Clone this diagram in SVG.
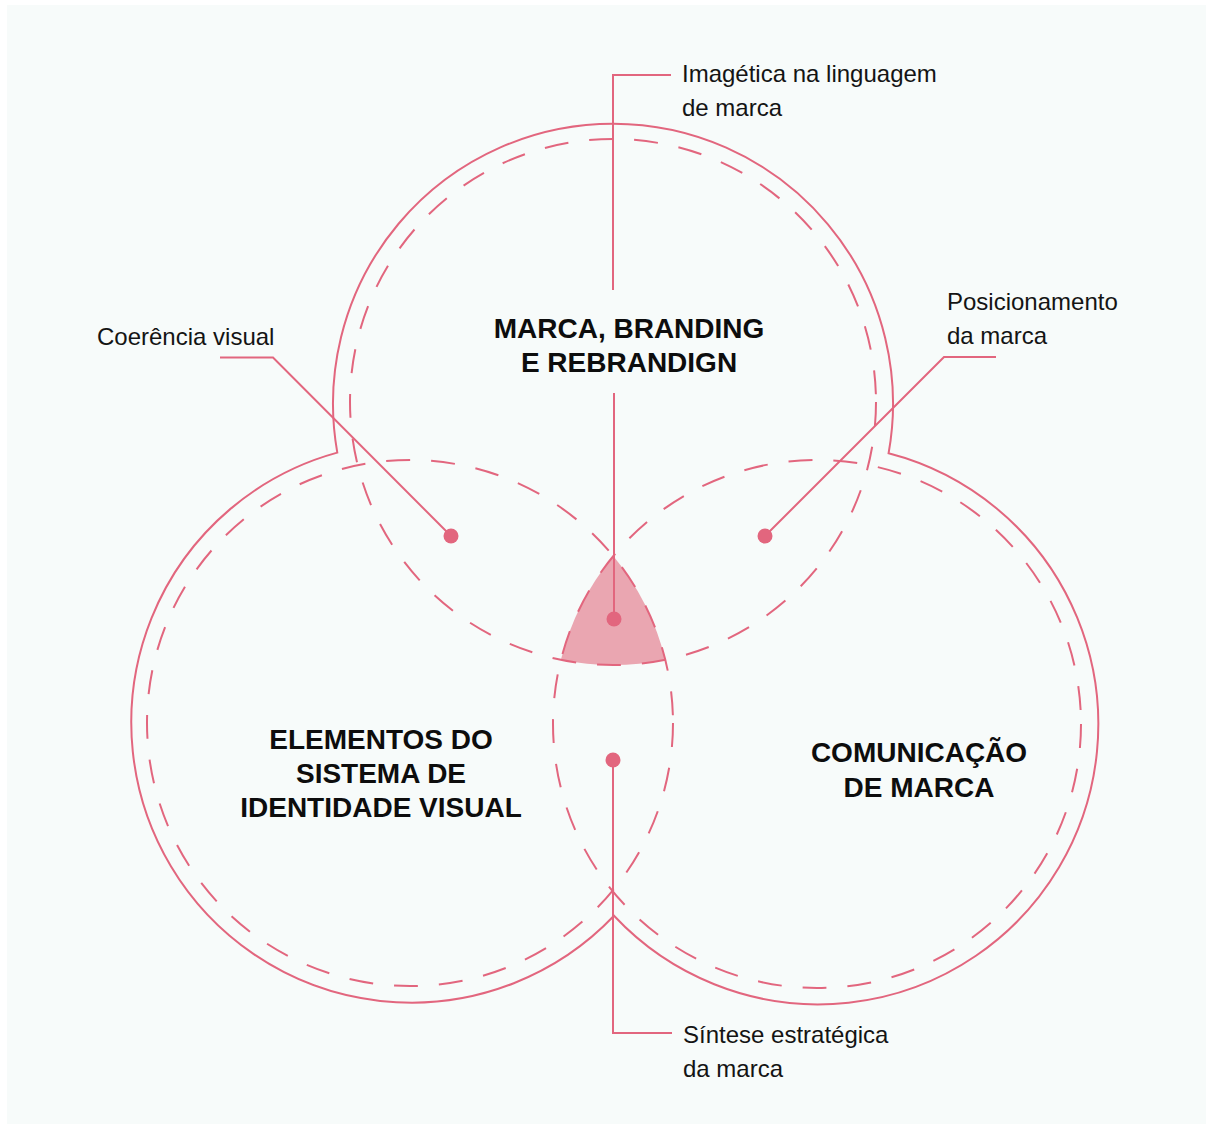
<svg xmlns="http://www.w3.org/2000/svg" width="1213" height="1129" viewBox="0 0 1213 1129">
  <style>
    .outline { fill: none; stroke: #e2667e; stroke-width: 2; stroke-linejoin: miter; }
    .dash { fill: none; stroke: #e2667e; stroke-width: 2; stroke-dasharray: 24 21; }
    .lead { fill: none; stroke: #e2667e; stroke-width: 2; }
    .dot { fill: #e2667e; }
    .lbl { font-family: "Liberation Sans", Arial, sans-serif; font-size: 24px; fill: #141414; }
    .ttl { font-family: "Liberation Sans", Arial, sans-serif; font-size: 28px; font-weight: bold; fill: #0d0d0d; text-anchor: middle; }
  </style>
  <rect x="0" y="0" width="1213" height="1129" fill="#ffffff"/>
  <rect x="7" y="5" width="1199" height="1119" fill="#f7fbfa"/>

  <g id="shape">
    <path class="outline" d="M 337.3 452.6 A 280 280 0 1 1 888.6 453.3 A 280 280 0 1 1 614 915.8 A 280 280 0 1 1 337.3 452.6 Z"/>
    <path id="core" d="M 613.3 556.1 A 264 264 0 0 0 560.9 659.8 A 263 263 0 0 0 665.3 659.8 A 263 263 0 0 0 613.3 556.1 Z" fill="#eaa6b1"/>
  </g>

  <g id="node-marca">
    <circle class="dash" cx="613" cy="402" r="263"/>
    <text class="ttl" x="629" y="338">MARCA, BRANDING</text>
    <text class="ttl" x="629" y="372">E REBRANDIGN</text>
  </g>
  <g id="node-elementos">
    <circle class="dash" cx="410" cy="723" r="263"/>
    <text class="ttl" x="381" y="749">ELEMENTOS DO</text>
    <text class="ttl" x="381" y="783">SISTEMA DE</text>
    <text class="ttl" x="381" y="817">IDENTIDADE VISUAL</text>
  </g>
  <g id="node-comunicacao">
    <circle class="dash" cx="817" cy="724" r="264"/>
    <text class="ttl" x="919" y="762">COMUNICAÇÃO</text>
    <text class="ttl" x="919" y="797">DE MARCA</text>
  </g>

  <g id="connectors">
    <polyline class="lead" points="671,75 613,75 613,290"/>
    <line class="lead" x1="614" y1="393" x2="614" y2="619"/>
    <polyline class="lead" points="220,357.5 273,357.5 451,536"/>
    <polyline class="lead" points="996,357 944,357 765,536"/>
    <polyline class="lead" points="613,760 613,1033 672,1033"/>
  </g>

  <g id="dots">
    <circle class="dot" cx="451" cy="536" r="7.5"/>
    <circle class="dot" cx="765" cy="536" r="7.5"/>
    <circle class="dot" cx="614" cy="619" r="7.5"/>
    <circle class="dot" cx="613" cy="760" r="7.5"/>
  </g>

  <g id="label-imagetica">
    <text class="lbl" x="682" y="82">Imagética na linguagem</text>
    <text class="lbl" x="682" y="116">de marca</text>
  </g>
  <g id="label-coerencia">
    <text class="lbl" x="97" y="345">Coerência visual</text>
  </g>
  <g id="label-posicionamento">
    <text class="lbl" x="947" y="310">Posicionamento</text>
    <text class="lbl" x="947" y="344">da marca</text>
  </g>
  <g id="label-sintese">
    <text class="lbl" x="683" y="1043">Síntese estratégica</text>
    <text class="lbl" x="683" y="1077">da marca</text>
  </g>
</svg>
